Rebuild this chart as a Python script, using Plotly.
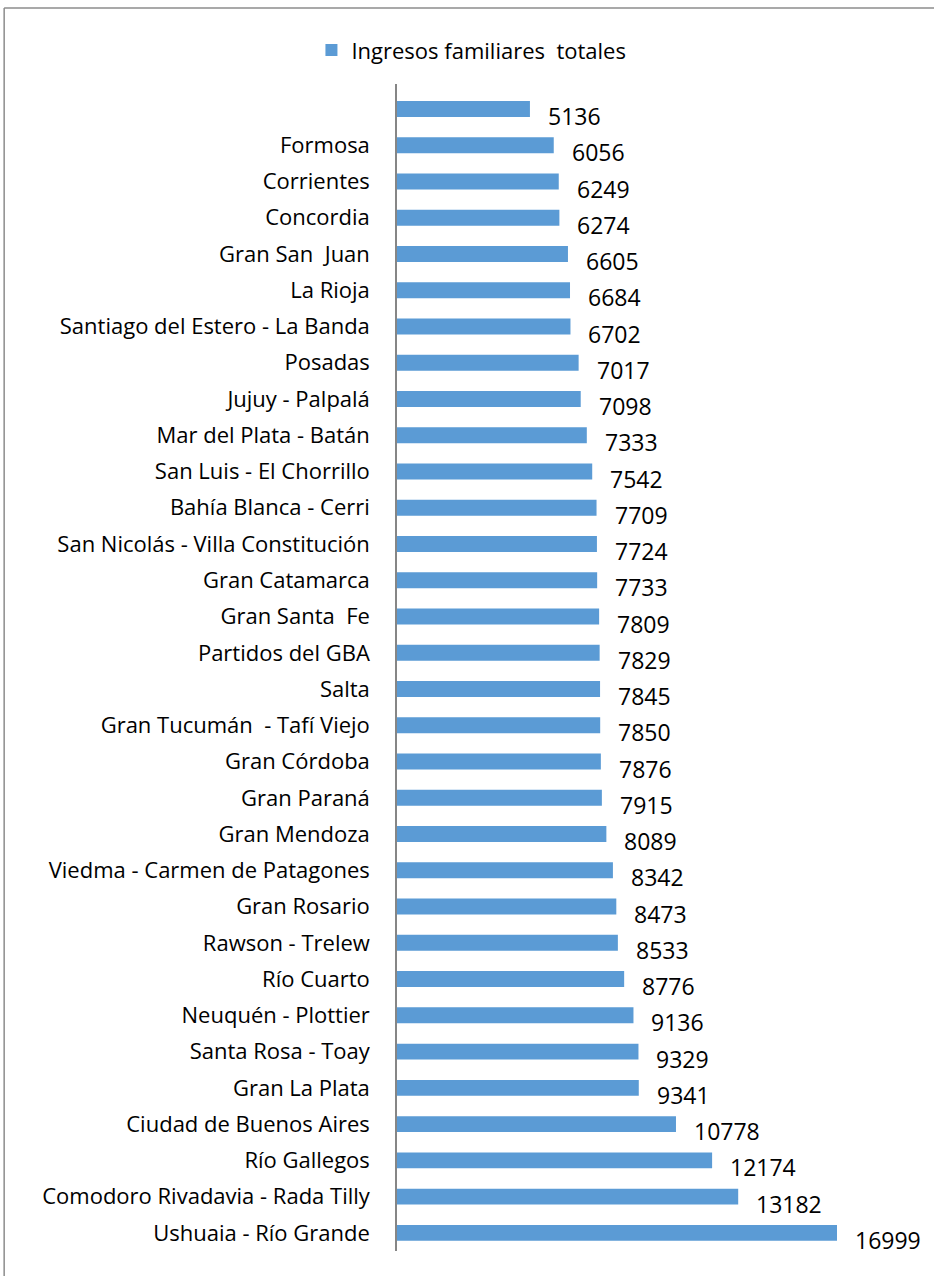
import plotly.graph_objects as go

# datos
ciudades = [" ", "Formosa", "Corrientes", "Concordia", "Gran San  Juan", "La Rioja",
            "Santiago del Estero - La Banda", "Posadas", "Jujuy - Palpalá",
            "Mar del Plata - Batán", "San Luis - El Chorrillo", "Bahía Blanca - Cerri",
            "San Nicolás - Villa Constitución", "Gran Catamarca", "Gran Santa  Fe",
            "Partidos del GBA", "Salta", "Gran Tucumán  - Tafí Viejo", "Gran Córdoba",
            "Gran Paraná", "Gran Mendoza", "Viedma - Carmen de Patagones", "Gran Rosario",
            "Rawson - Trelew", "Río Cuarto", "Neuquén - Plottier", "Santa Rosa - Toay",
            "Gran La Plata", "Ciudad de Buenos Aires", "Río Gallegos",
            "Comodoro Rivadavia - Rada Tilly", "Ushuaia - Río Grande"]
ingresos = [5136, 6056, 6249, 6274, 6605, 6684, 6702, 7017, 7098, 7333, 7542, 7709,
            7724, 7733, 7809, 7829, 7845, 7850, 7876, 7915, 8089, 8342, 8473, 8533,
            8776, 9136, 9329, 9341, 10778, 12174, 13182, 16999]

FONT = "Open Sans"
FS = 22
AZUL = "#5B9BD5"

fig = go.Figure()
fig.add_trace(go.Bar(y=ciudades, x=ingresos, orientation="h", marker_color=AZUL,
                     marker_line_width=0, name="Ingresos familiares  totales",
                     showlegend=True))

# etiquetas de datos (estilo Excel: a la derecha y un poco abajo)
for c, v in zip(ciudades, ingresos):
    fig.add_annotation(x=v, y=c, text=str(v), showarrow=False, xanchor="left",
                       xshift=16, yshift=-7, font=dict(size=23, color="black", family=FONT))

# marco del gráfico (izquierda y arriba)
fig.add_shape(type="line", xref="paper", yref="paper", x0=-0.781, x1=-0.781, y0=-0.1, y1=1.0651,
              line=dict(color="#8c8c8c", width=1.5))
fig.add_shape(type="line", xref="paper", yref="paper", x0=-0.781, x1=1.2, y0=1.0651, y1=1.0651,
              line=dict(color="#8c8c8c", width=1.5))

fig.update_layout(
    width=934, height=1276,
    margin=dict(l=397, r=34, t=84, b=25, autoexpand=False),
    paper_bgcolor="white", plot_bgcolor="white",
    font=dict(family=FONT, size=FS, color="black"),
    bargap=0.56,
    legend=dict(orientation="h", x=0.148, y=1.029, xanchor="center", yanchor="middle",
                font=dict(size=FS), itemwidth=30, bgcolor="rgba(0,0,0,0)"),
    xaxis=dict(range=[0, 19433], visible=False, fixedrange=True),
    yaxis=dict(autorange="reversed", showline=True, linecolor="#868686", linewidth=1.5,
               ticks="", ticklabelstandoff=21, showgrid=False, tickfont=dict(size=FS)),
)

# sin margen del body para que el gráfico ocupe toda la ventana
fig.write_html("out.html", config={"displayModeBar": False},
               post_script="document.body.style.margin='0px';")
